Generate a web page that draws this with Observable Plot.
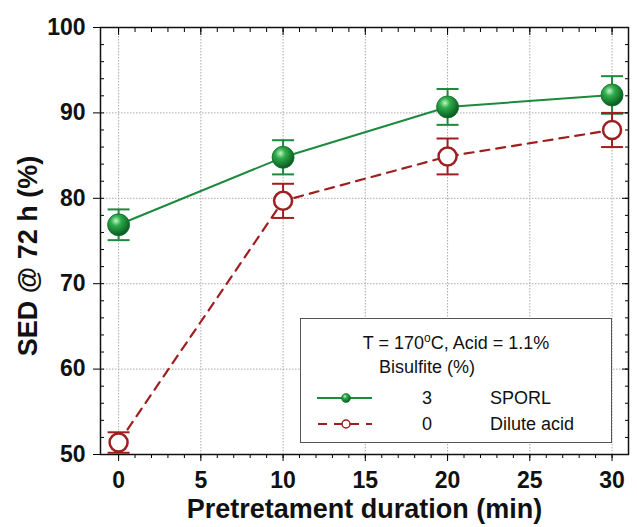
<!DOCTYPE html>
<html><head><meta charset="utf-8">
<script src="https://cdn.jsdelivr.net/npm/d3@7"></script>
<script src="https://cdn.jsdelivr.net/npm/@observablehq/plot@0.6"></script>
<style>
body{margin:0;background:#fff;font-family:"Liberation Sans",Arial,sans-serif;}
#wrap{position:relative;width:637px;height:527px;}
#legend{position:absolute;left:300px;top:318px;width:312px;height:125px;border:1.5px solid #555;background:#fff;font-size:18px;color:#111;box-sizing:border-box;}
#legend .row{position:absolute;left:0;width:100%;line-height:20px;height:20px;}
</style>
</head><body>
<div id="wrap"></div>
<script>
const durations = [0, 10, 20, 30];
const sporl = [76.9, 84.8, 90.7, 92.1];
const sporlErr = [1.8, 2.0, 2.1, 2.2];
const dilute = [51.4, 79.7, 84.9, 88.0];
const diluteErr = [1.2, 2.0, 2.1, 2.0];
const xTicks = [0, 5, 10, 15, 20, 25, 30];
const yTicks = [50, 60, 70, 80, 90, 100];
const xMinor = d3.range(0, 31, 1);
const yMinor = d3.range(50, 101, 2);

const green = "#1b8a3c";
const red = "#9e1f1f";

const rows = [
  ...durations.map((d, i) => ({series: "SPORL", x: d, y: sporl[i], lo: sporl[i] - sporlErr[i], hi: sporl[i] + sporlErr[i]})),
  ...durations.map((d, i) => ({series: "Dilute", x: d, y: dilute[i], lo: dilute[i] - diluteErr[i], hi: dilute[i] + diluteErr[i]}))
];
const S = rows.filter(d => d.series === "SPORL");
const D = rows.filter(d => d.series === "Dilute");

const capSymbol = {draw(ctx, size) { const w = 11; ctx.moveTo(-w, 0); ctx.lineTo(w, 0); }};

const chart = Plot.plot({
  width: 637, height: 527,
  marginLeft: 100, marginRight: 9, marginTop: 27, marginBottom: 73,
  style: {fontFamily: "Liberation Sans, Arial, sans-serif", background: "#fff"},
  x: {domain: [-1.1, 31]},
  y: {domain: [50, 100]},
  marks: [
    Plot.gridX(xTicks, {stroke: "#aaa", strokeOpacity: 1, strokeDasharray: "1.5,1.5", strokeWidth: 1}),
    Plot.gridY([60, 70, 80, 90], {stroke: "#aaa", strokeOpacity: 1, strokeDasharray: "1.5,1.5", strokeWidth: 1}),
    // minor ticks
    Plot.axisX(xMinor, {anchor: "bottom", tickSize: 4, tickFormat: () => "", label: null}),
    Plot.axisX(xMinor, {anchor: "top", tickSize: 4, dy: 4, tickFormat: () => "", label: null}),
    Plot.axisY(yMinor, {anchor: "left", tickSize: 4, dx: 4, tickFormat: () => "", label: null}),
    Plot.axisY(yMinor, {anchor: "right", tickSize: 4, dx: -4, tickFormat: () => "", label: null}),
    // major ticks
    Plot.axisX(xTicks, {anchor: "bottom", tickSize: 7, tickPadding: 10, fontSize: 23, fontWeight: "bold", fill: "#111", label: null}),
    Plot.axisX(xTicks, {anchor: "top", tickSize: 7, dy: 7, tickFormat: () => "", label: null}),
    Plot.axisY(yTicks, {anchor: "left", tickSize: 7, tickPadding: 8, fontSize: 23, fontWeight: "bold", fill: "#111", label: null}),
    Plot.axisY(yTicks, {anchor: "right", tickSize: 7, dx: -7, tickFormat: () => "", label: null}),
    Plot.frame({stroke: "#111", strokeWidth: 1.5}),
    // lines
    Plot.line(S, {x: "x", y: "y", stroke: green, strokeWidth: 2}),
    Plot.line(D, {x: "x", y: "y", stroke: red, strokeWidth: 2.2, strokeDasharray: "9,7"}),
    // error bars
    Plot.ruleX(S, {x: "x", y1: "lo", y2: "hi", stroke: green, strokeWidth: 2}),
    Plot.dot(S, {x: "x", y: "lo", symbol: capSymbol, stroke: green, strokeWidth: 2}),
    Plot.dot(S, {x: "x", y: "hi", symbol: capSymbol, stroke: green, strokeWidth: 2}),
    Plot.ruleX(D, {x: "x", y1: "lo", y2: "hi", stroke: red, strokeWidth: 2}),
    Plot.dot(D, {x: "x", y: "lo", symbol: capSymbol, stroke: red, strokeWidth: 2}),
    Plot.dot(D, {x: "x", y: "hi", symbol: capSymbol, stroke: red, strokeWidth: 2}),
    // points
    Plot.dot(S, {x: "x", y: "y", r: 11, fill: "url(#sphere)", stroke: "#0f6b2b", strokeWidth: 0.8}),
    Plot.dot(D, {x: "x", y: "y", r: 9, fill: "white", stroke: red, strokeWidth: 2.5}),
    // axis titles
    Plot.text(["Pretretament duration (min)"], {frameAnchor: "bottom", lineAnchor: "middle", dy: 55, fontSize: 27, fontWeight: "bold", fill: "#111"}),
    Plot.text(["SED @ 72 h (%)"], {frameAnchor: "left", textAnchor: "middle", dx: -72, dy: 15, rotate: -90, fontSize: 27, fontWeight: "bold", fill: "#111"})
  ]
});

const defs = d3.select(chart).insert("defs", ":first-child");
const g = defs.append("radialGradient").attr("id", "sphere").attr("cx", "38%").attr("cy", "32%").attr("r", "65%");
g.append("stop").attr("offset", "0%").attr("stop-color", "#c4f5c4");
g.append("stop").attr("offset", "35%").attr("stop-color", "#2fae4c");
g.append("stop").attr("offset", "100%").attr("stop-color", "#0c5e22");

const wrap = document.getElementById("wrap");
wrap.appendChild(chart);

const legend = document.createElement("div");
legend.id = "legend";
legend.innerHTML = `
<div class="row" style="top:14px;text-align:center;">T = 170<span style="font-size:12px;position:relative;top:-7px;">o</span>C, Acid = 1.1%</div>
<div class="row" style="top:38px;left:78px;">Bisulfite (%)</div>
<div class="row" style="top:69px;">
  <svg width="60" height="20" style="position:absolute;left:16px;top:0px;">
    <line x1="0" y1="10" x2="55" y2="10" stroke="${green}" stroke-width="2"/>
    <circle cx="29" cy="10" r="4.5" fill="url(#sphere)" stroke="#0f6b2b" stroke-width="0.6"/>
  </svg>
  <span style="position:absolute;left:121px;">3</span>
  <span style="position:absolute;left:189px;">SPORL</span>
</div>
<div class="row" style="top:95px;">
  <svg width="60" height="20" style="position:absolute;left:16px;top:0px;">
    <line x1="0" y1="10" x2="55" y2="10" stroke="${red}" stroke-width="2" stroke-dasharray="9,7" stroke-dashoffset="-1"/>
    <circle cx="29" cy="10" r="4" fill="white" stroke="${red}" stroke-width="1.5"/>
  </svg>
  <span style="position:absolute;left:121px;">0</span>
  <span style="position:absolute;left:189px;">Dilute acid</span>
</div>`;
wrap.appendChild(legend);
</script>
</body></html>
